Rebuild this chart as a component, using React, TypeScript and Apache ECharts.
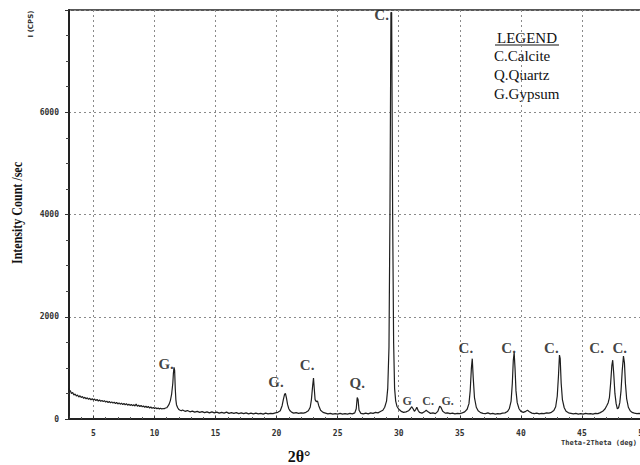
import React, { useEffect, useRef } from "react";
import * as echarts from "echarts";

// 2θ (deg) and intensity (counts/sec)
const twoTheta: number[] = [
  3.0, 3.05, 3.1, 3.2, 3.3, 3.4, 3.5, 3.6, 3.7, 3.8, 3.9, 4.0, 4.1, 4.2, 4.3, 4.4, 4.5, 4.6, 4.7, 4.8, 4.9,
  5.0, 5.1, 5.2, 5.3, 5.4, 5.5, 5.6, 5.7, 5.8, 5.9, 6.0, 6.1, 6.2, 6.3, 6.4, 6.5, 6.6, 6.7, 6.8, 6.9,
  7.0, 7.1, 7.2, 7.3, 7.4, 7.5, 7.6, 7.7, 7.8, 7.9, 8.0, 8.1, 8.2, 8.3, 8.4, 8.5, 8.6, 8.7, 8.8, 8.9,
  9.0, 9.1, 9.2, 9.3, 9.4, 9.5, 9.6, 9.7, 9.8, 9.9, 10.0, 10.1, 10.2, 10.3, 10.4, 10.5, 10.6, 10.7, 10.8, 10.9,
  11.0, 11.1, 11.2, 11.3, 11.4, 11.5, 11.55, 11.6, 11.65, 11.7, 11.75, 11.8, 11.9, 12.0, 12.1, 12.2,
  12.3, 12.5, 12.7, 12.9, 13.1, 13.3, 13.5, 13.7, 13.9, 14.1, 14.3, 14.5, 14.7, 14.9, 15.1, 15.3, 15.5, 15.7, 15.9,
  16.1, 16.3, 16.5, 16.7, 16.9, 17.1, 17.3, 17.5, 17.7, 17.9, 18.1, 18.3, 18.5, 18.7, 18.9, 19.1, 19.3, 19.5, 19.7, 19.9,
  20.1, 20.3, 20.45, 20.55, 20.65, 20.72, 20.8, 20.9, 21.0, 21.1, 21.25, 21.4, 21.6, 21.8, 22.0, 22.2, 22.4, 22.6,
  22.75, 22.85, 22.95, 23.02, 23.08, 23.15, 23.25, 23.35, 23.45, 23.6, 23.8, 24.0, 24.2, 24.4, 24.6, 24.8,
  25.0, 25.2, 25.4, 25.6, 25.8, 26.0, 26.2, 26.4, 26.52, 26.6, 26.67, 26.75, 26.9, 27.1, 27.3, 27.5, 27.7, 27.9,
  28.1, 28.3, 28.5, 28.7, 28.85, 29.0, 29.1, 29.2, 29.28, 29.36, 29.42, 29.5, 29.58, 29.66, 29.75, 29.85,
  30.0, 30.2, 30.4, 30.6, 30.8, 30.95, 31.05, 31.15, 31.28, 31.4, 31.48, 31.58, 31.7, 31.9, 32.1, 32.25, 32.4,
  32.6, 32.8, 33.0, 33.2, 33.35, 33.45, 33.6, 33.8, 34.0, 34.2, 34.4, 34.6, 34.8, 35.0, 35.2, 35.4, 35.6,
  35.75, 35.85, 35.95, 36.02, 36.1, 36.2, 36.35, 36.5, 36.7, 36.9, 37.1, 37.3, 37.5, 37.7, 37.9, 38.1, 38.3,
  38.5, 38.7, 38.9, 39.05, 39.2, 39.3, 39.38, 39.45, 39.52, 39.6, 39.7, 39.85, 40.0, 40.2, 40.4, 40.55, 40.7,
  40.9, 41.1, 41.3, 41.5, 41.7, 41.9, 42.1, 42.3, 42.5, 42.7, 42.85, 42.98, 43.08, 43.16, 43.22, 43.3, 43.4,
  43.55, 43.7, 43.9, 44.1, 44.3, 44.5, 44.7, 44.9, 45.1, 45.3, 45.5, 45.7, 45.9, 46.1, 46.3, 46.5, 46.7, 46.9,
  47.05, 47.15, 47.25, 47.35, 47.45, 47.52, 47.6, 47.7, 47.8, 47.9, 48.0, 48.1, 48.2, 48.3, 48.4, 48.48,
  48.56, 48.66, 48.8, 48.95, 49.1, 49.3, 49.5, 49.7, 49.9, 50.0,
];

const intensity: number[] = [
  600, 540, 560, 500, 520, 470, 490, 450, 470, 430, 455, 420, 440, 405, 425, 395, 415, 385, 405, 375, 400,
  370, 390, 360, 385, 350, 375, 345, 365, 340, 360, 330, 350, 320, 345, 315, 335, 310, 330, 300, 325,
  295, 315, 290, 310, 280, 305, 275, 300, 270, 290, 265, 285, 260, 280, 255, 290, 250, 270, 245, 265,
  240, 255, 230, 250, 225, 245, 215, 235, 210, 225, 205, 220, 200, 215, 195, 210, 195, 205, 200, 215,
  220, 250, 290, 360, 480, 700, 900, 1010, 950, 600, 380, 280, 220, 185, 170, 160,
  175, 150, 165, 140, 155, 135, 150, 130, 145, 125, 140, 120, 140, 120, 135, 115, 130, 115, 135,
  110, 125, 110, 125, 105, 120, 105, 120, 100, 115, 100, 115, 100, 110, 95, 115, 100, 110, 105, 120,
  130, 160, 260, 380, 480, 500, 420, 280, 200, 160, 130, 115, 125, 110, 120, 115, 130, 160,
  230, 380, 650, 800, 600, 380, 340, 350, 260, 170, 130, 115, 100, 110, 95, 105,
  95, 110, 95, 105, 95, 110, 100, 120, 200, 420, 380, 170, 110, 100, 115, 100, 120, 110,
  130, 120, 145, 170, 230, 350, 600, 1400, 4000, 7950, 7950, 4000, 1500, 600, 350, 250,
  190, 150, 130, 140, 160, 200, 240, 210, 150, 190, 230, 170, 130, 115, 140, 170, 140,
  110, 120, 105, 150, 250, 230, 150, 115, 120, 105, 115, 100, 110, 105, 120, 140, 190,
  300, 550, 1000, 1180, 800, 420, 230, 160, 125, 110, 105, 120, 100, 110, 95, 105, 100,
  115, 120, 145, 200, 350, 700, 1150, 1300, 1000, 550, 320, 200, 150, 130, 150, 170, 140,
  115, 105, 115, 100, 110, 105, 120, 115, 130, 165, 240, 450, 850, 1250, 1180, 700, 380,
  220, 150, 120, 110, 100, 110, 95, 105, 95, 110, 100, 105, 95, 110, 105, 125, 150, 200,
  270, 320, 420, 700, 1050, 1150, 900, 500, 300, 200, 220, 320, 550, 950, 1230, 1100,
  700, 400, 230, 160, 130, 115, 105, 110, 100, 105,
];

// peak annotations: text, 2θ, intensity where the label sits, size
const peakText: string[] = ["G.", "G.", "C.", "Q.", "C.", "G", "C.", "G.", "C.", "C.", "C.", "C.", "C."];
const peakX: number[] = [10.95, 19.95, 22.5, 26.6, 28.6, 30.7, 32.4, 34.0, 35.5, 39.0, 42.5, 46.2, 48.1];
const peakY: number[] = [1075, 725, 1055, 705, 7900, 350, 350, 350, 1390, 1390, 1390, 1390, 1390];
const peakSmall: boolean[] = [false, false, false, false, false, true, true, true, false, false, false, false, false];

const legendTitle = "LEGEND";
const legendLines: string[] = ["C.Calcite", "Q.Quartz", "G.Gypsum"];

const yTicks = { min: 0, max: 8000, interval: 2000 };
const xRange = { min: 3, max: 50 };

export default function App() {
  const ref = useRef<HTMLDivElement>(null);

  useEffect(() => {
    if (!ref.current) return;
    const chart = echarts.init(ref.current, null, { renderer: "svg" });
    const lineData = twoTheta.map((t, i) => [t, intensity[i]]);
    const labelData = peakText.map((t, i) => ({
      value: [peakX[i], peakY[i]],
      name: t,
      label: { fontSize: peakSmall[i] ? 12 : 15 },
    }));
    const serif = "'Liberation Serif', 'Times New Roman', serif";
    chart.setOption({
      animation: false,
      backgroundColor: "#ffffff",
      grid: {
        left: 69,
        right: 12,
        top: 10,
        bottom: 46,
        show: true,
        borderColor: "#222",
        borderWidth: 1.5,
        backgroundColor: "transparent",
      },
      xAxis: {
        type: "value",
        min: xRange.min,
        max: xRange.max,
        splitNumber: 10,
        axisLine: { show: true, onZero: false, lineStyle: { color: "#222", width: 2 } },
        axisTick: { show: true, length: 3, inside: true, lineStyle: { color: "#333" } },
        minorTick: { show: true, splitNumber: 5, length: 2, lineStyle: { color: "#555" } },
        axisLabel: {
          showMinLabel: false,
          margin: 10,
          fontSize: 8,
          fontWeight: "bold",
          color: "#333",
          fontFamily: "'DejaVu Sans Mono', monospace",
        },
        splitLine: { show: true, lineStyle: { color: "#8a8a8a", type: [2, 3], width: 1 } },
      },
      yAxis: {
        type: "value",
        min: yTicks.min,
        max: yTicks.max,
        interval: yTicks.interval,
        axisLine: { show: true, lineStyle: { color: "#222", width: 2 } },
        axisTick: { show: true, length: 4, lineStyle: { color: "#333" } },
        minorTick: { show: true, splitNumber: 4, length: 3, lineStyle: { color: "#444" } },
        axisLabel: {
          margin: 10,
          fontSize: 8,
          fontWeight: "bold",
          color: "#333",
          fontFamily: "'DejaVu Sans Mono', monospace",
          formatter: (v: number) => (v === yTicks.max ? "" : String(v)),
        },
        splitLine: { show: true, lineStyle: { color: "#8a8a8a", type: [2, 3], width: 1 } },
      },
      series: [
        {
          type: "line",
          data: lineData,
          showSymbol: false,
          symbol: "none",
          lineStyle: { color: "#1e1e1e", width: 1.2 },
          z: 3,
        },
        {
          type: "scatter",
          data: labelData,
          symbolSize: 0,
          silent: true,
          label: {
            show: true,
            position: "inside",
            formatter: "{b}",
            color: "#111",
            fontFamily: serif,
            fontWeight: "bold",
          },
          z: 4,
        },
      ],
      graphic: [
        {
          type: "text",
          x: 31,
          y: 24,
          rotation: Math.PI / 2,
          style: {
            text: "I (CPS)",
            fontSize: 7,
            fontWeight: "bold",
            fontFamily: "'DejaVu Sans', sans-serif",
            fill: "#333",
            align: "center",
            verticalAlign: "middle",
          },
        },
        {
          type: "text",
          x: 17,
          y: 213,
          rotation: Math.PI / 2,
          scaleX: 0.8,
          style: {
            text: "Intensity Count /sec",
            fontSize: 15,
            fontWeight: "bold",
            fontFamily: serif,
            fill: "#111",
            align: "center",
            verticalAlign: "middle",
          },
        },
        {
          type: "text",
          x: 299,
          y: 456,
          style: {
            text: "2θ°",
            fontSize: 16,
            fontWeight: "bold",
            fontFamily: serif,
            fill: "#111",
            align: "center",
            verticalAlign: "middle",
          },
        },
        {
          type: "text",
          x: 561,
          y: 443,
          style: {
            text: "Theta-2Theta (deg)",
            fontSize: 7,
            fontWeight: "bold",
            fontFamily: "'DejaVu Sans Mono', monospace",
            fill: "#333",
            align: "left",
            verticalAlign: "middle",
          },
        },
        {
          type: "text",
          x: 527,
          y: 38,
          style: {
            text: legendTitle,
            fontSize: 15,
            fontFamily: serif,
            fill: "#111",
            align: "center",
            verticalAlign: "middle",
          },
        },
        {
          type: "line",
          shape: { x1: 495, y1: 45, x2: 559, y2: 45 },
          style: { stroke: "#111", lineWidth: 1 },
        },
        ...legendLines.map((t, i) => ({
          type: "text",
          x: 494,
          y: 56 + i * 19,
          style: {
            text: t,
            fontSize: 15,
            fontFamily: serif,
            fill: "#111",
            align: "left",
            verticalAlign: "middle",
          },
        })),
      ],
    });
    return () => chart.dispose();
  }, []);

  return (
    <div style={{ position: "fixed", left: 0, top: 0, width: 640, height: 465, overflow: "hidden", background: "#fff" }}>
      <div ref={ref} style={{ width: 655, height: 465 }} />
    </div>
  );
}
